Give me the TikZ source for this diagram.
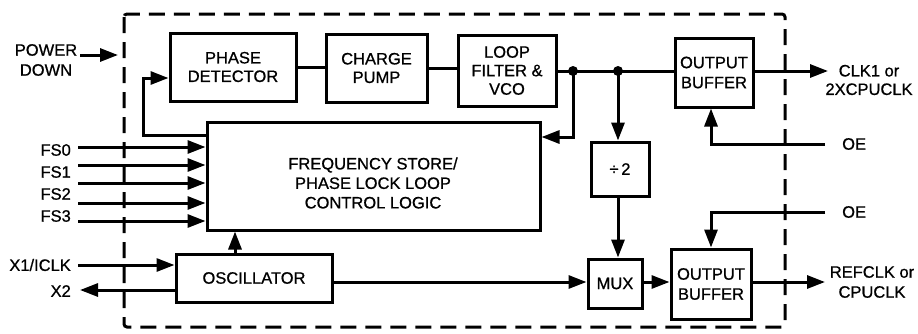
\documentclass[tikz,border=0pt]{standalone}
\usepackage{fontspec}
\setmainfont{Liberation Sans}[UprightFeatures={FakeBold=0.8}]
\usetikzlibrary{arrows.meta}
\begin{document}
\begin{tikzpicture}[x=1pt,y=-1pt,
  every node/.style={font=\fontsize{16.5}{18.5}\selectfont, inner sep=0pt},
  blk/.style={draw, line width=3pt, align=center},
  wire/.style={line width=3pt},
  arr/.style={wire, -{Triangle[length=18pt,width=13pt]}},
  lbl/.style={align=center},
  dashbox/.style={line width=3pt, dash pattern=on 16pt off 9pt, rounded corners=3pt}]
\useasboundingbox (0,0) rectangle (918,333);
% enclosure
\draw[dashbox] (124,14) rectangle (785,327);
% blocks
\node[blk, minimum width=126pt, minimum height=68pt] (pd) at (233,67) {PHASE\\DETECTOR};
\node[blk, minimum width=101pt, minimum height=68pt] (cp) at (376.5,68) {CHARGE\\PUMP};
\node[blk, minimum width=98pt, minimum height=71pt] (lf) at (507,70.5) {LOOP\\FILTER \&\\VCO};
\node[blk, minimum width=78pt, minimum height=69pt, font=\fontsize{16.5}{20}\selectfont] (ob1) at (714,72.5) {OUTPUT\\BUFFER};
\node[blk, minimum width=333pt, minimum height=108pt] (fsb) at (373.5,176) {};
\node[lbl, font=\fontsize{16.5}{19.5}\selectfont] (fst) at (373,183) {FREQUENCY STORE/\\PHASE LOCK LOOP\\CONTROL LOGIC};
\node[blk, minimum width=58pt, minimum height=54pt] (div) at (620,169) {÷\,2};
\node[blk, minimum width=156pt, minimum height=48pt] (osc) at (254,278) {OSCILLATOR};
\node[blk, minimum width=54pt, minimum height=49pt] (mux) at (615,283.5) {MUX};
\node[blk, minimum width=80pt, minimum height=70pt, font=\fontsize{16.5}{20}\selectfont] (ob2) at (711,284) {OUTPUT\\BUFFER};
% coordinates
\coordinate (d1) at (573,71);
\coordinate (d2) at (618,71);
\coordinate (out1) at (828,71);
\coordinate (fbk) at (573,137);
\coordinate (oe1) at (825,144);
\coordinate (oe2) at (825,212);
\coordinate (out2) at (825,282);
\coordinate (pwr) at (80,55);
\coordinate (pwrend) at (118,55);
\coordinate (fbl) at (143,135);
\coordinate (fbt) at (143,78);
\coordinate (x1) at (78,265);
\coordinate (x2) at (80,290);
\coordinate (oscup) at (235,278);
% connectors
\draw[wire] (pd.east) -- (pd.east -| cp.west);
\draw[wire] (cp.east) -- (cp.east -| lf.west);
\draw[wire] (d1 -| lf.east) -- (d1) -- (d2) -- (d2 -| ob1.west);
\draw[arr] (d1 -| ob1.east) -- (out1);
\fill (d1) circle (5pt);
\fill (d2) circle (5pt);
\draw[arr] (d1) -- (fbk) -- (fbk -| fsb.east);
\draw[arr] (d2) -- (d2 |- div.north);
\draw[arr] (oe1) -| ([xshift=-3pt]ob1.south);
\draw[arr] (d2 |- div.south) -- (d2 |- mux.north);
\draw[arr] (osc.east |- out2) -- (out2 -| mux.west);
\draw[arr] (mux.east |- out2) -- (out2 -| ob2.west);
\draw[arr] (ob2.east |- out2) -- (out2);
\draw[arr] (oe2) -| (ob2.north);
\draw[arr] (fsb.west |- fbl) -- (fbl) -- (fbt) -- (fbt -| pd.west);
\draw[arr] (oscup |- osc.north) -- (oscup |- fsb.south);
\draw[arr] (x1) -- (x1 -| osc.west);
\draw[arr] (x2 -| osc.west) -- (x2);
\draw[arr] (pwr) -- (pwrend);
\foreach \i/\yy in {0/147,1/165,2/183,3/203,4/221}{
  \coordinate (fs\i) at (78,\yy);
  \draw[arr] (fs\i) -- (fs\i -| fsb.west);
}
% labels
\node[lbl, font=\fontsize{16.5}{20}\selectfont] (pwrl) at (46,60) {POWER\\DOWN};
\node[anchor=east] (fs0l) at (71,150) {FS0};
\node[anchor=east] (fs1l) at (71,172) {FS1};
\node[anchor=east] (fs2l) at (71,194) {FS2};
\node[anchor=east] (fs3l) at (71,216) {FS3};
\node[anchor=east] (x1l) at (71,265) {X1/ICLK};
\node[anchor=east] (x2l) at (71,291) {X2};
\node[anchor=west] (oel1) at (842,144) {OE};
\node[anchor=west] (oel2) at (842,212) {OE};
\node[lbl] (c1l) at (869,80) {CLK1 or\\2XCPUCLK};
\node[lbl, font=\fontsize{16.5}{20}\selectfont] (c2l) at (872,282) {REFCLK or\\CPUCLK};
\end{tikzpicture}
\end{document}
